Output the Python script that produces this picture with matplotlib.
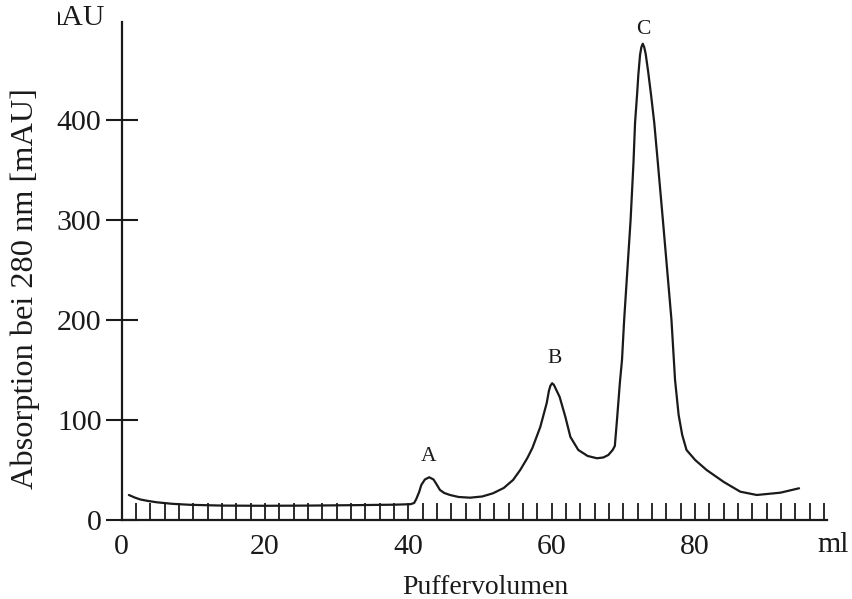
import numpy as np
import matplotlib
matplotlib.use("Agg")
import matplotlib.pyplot as pl
from matplotlib.ticker import FuncFormatter
from matplotlib.transforms import Bbox

# elution volume [ml] and absorption at 280 nm [mAU]
volume = [1.0, 1.8, 2.6, 3.7, 4.9, 7.0, 9.5, 14.0, 20.0, 26.0, 32.0, 38.0,
          40.3, 40.8, 41.1, 41.5, 41.8, 42.3, 42.9, 43.5, 43.9, 44.4, 45.0,
          45.8, 47.0, 48.6, 50.3, 51.8, 53.3, 54.6, 55.6, 56.6, 57.3, 58.4,
          59.3, 59.6, 59.8, 60.05, 60.3, 60.5, 61.1, 61.9, 62.6, 63.7, 65.0,
          66.3, 67.2, 67.9, 68.5, 68.8, 69.1, 69.5, 69.8, 70.1, 71.0, 71.4,
          71.62, 71.9, 72.08, 72.32, 72.5, 72.7, 72.9, 73.1, 73.45, 73.85,
          74.3, 74.8, 75.5, 76.1, 76.7, 77.2, 77.7, 78.2, 78.8, 80.0, 81.6,
          84.0, 86.3, 88.6, 91.9, 94.5]
absorption = [25.0, 22.5, 20.5, 19.0, 17.7, 16.2, 15.2, 14.4, 14.2, 14.4,
              14.8, 15.3, 15.8, 17.0, 21.0, 28.0, 35.0, 40.5, 42.7, 40.5,
              36.0, 30.0, 27.0, 25.0, 23.0, 22.3, 23.5, 26.7, 32.0, 40.0,
              50.0, 62.0, 72.0, 93.0, 117.0, 129.0, 134.0, 136.7, 135.0,
              132.0, 123.0, 103.0, 83.0, 70.0, 64.0, 61.7, 62.5, 65.0, 70.0,
              74.0, 100.0, 137.0, 160.0, 200.0, 300.0, 357.0, 397.0, 425.0,
              445.0, 465.0, 472.5, 476.0, 472.5, 466.0, 448.0, 425.0, 397.0,
              357.0, 300.0, 250.0, 200.0, 140.0, 105.0, 85.0, 70.0, 60.0,
              50.0, 38.0, 28.3, 25.0, 27.3, 31.7]

peak_names = ["A", "B", "C"]
peak_x = [42.8, 60.4, 72.8]
peak_y = [63, 161, 490]

y_ticks = [0, 100, 200, 300, 400]
x_labels = [0, 20, 40, 60, 80]
x_ticks = np.arange(0, 99, 2)

W, H = 853, 599
ink = "#1a1a1a"
pl.rcParams["font.family"] = ["Liberation Serif", "DejaVu Serif"]
fontsize = 21.5

fig = pl.figure(figsize=(W / 100, H / 100), dpi=100)
ax = fig.add_axes([121.7 / W, (H - 520) / H, (827 - 121.7) / W, 498.3 / H])
ax.plot(volume, absorption, color=ink, linewidth=1.6,
        solid_joinstyle="round", solid_capstyle="round")
ax.set_xlim(0, 98.4)
ax.set_ylim(0, 498)

for side in ["top", "right"]:
    ax.spines[side].set_visible(False)
for side in ["left", "bottom"]:
    ax.spines[side].set_linewidth(1.6)
    ax.spines[side].set_color(ink)

ax.set_yticks(y_ticks)
ax.tick_params(axis="y", direction="inout", length=23, width=1.5, colors=ink,
               labelsize=fontsize, pad=3)
ax.set_xticks(x_ticks)
ax.xaxis.set_major_formatter(
    FuncFormatter(lambda v, pos: f"{v:.0f}" if round(v) in x_labels else ""))
ax.tick_params(axis="x", direction="in", length=12.5, width=1.3, colors=ink,
               labelsize=fontsize, pad=10)

for name, px, py in zip(peak_names, peak_x, peak_y):
    ax.text(px, py, name, ha="center", va="center", fontsize=15.5, color=ink)

fig.text(849 / W, (H - 552) / H, "ml", ha="right", va="baseline",
         fontsize=fontsize, color=ink)
fig.text(485 / W, (H - 594) / H, "Puffervolumen", ha="center", va="baseline",
         fontsize=20, color=ink)
fig.text(25 / W, (H - 289) / H, "Absorption bei 280 nm [mAU]", rotation=90,
         ha="center", va="center", fontsize=23.3, color=ink)

# unit at the top of the y axis, cut off on the left as in the original
unit = fig.text(105 / W, (H - 18) / H, "mAU", ha="right", va="center",
                fontsize=fontsize, color=ink)
unit.set_clip_box(Bbox.from_extents(58, 0, W, H))
unit.set_clip_on(True)

fig.savefig("out.png", dpi=100)
